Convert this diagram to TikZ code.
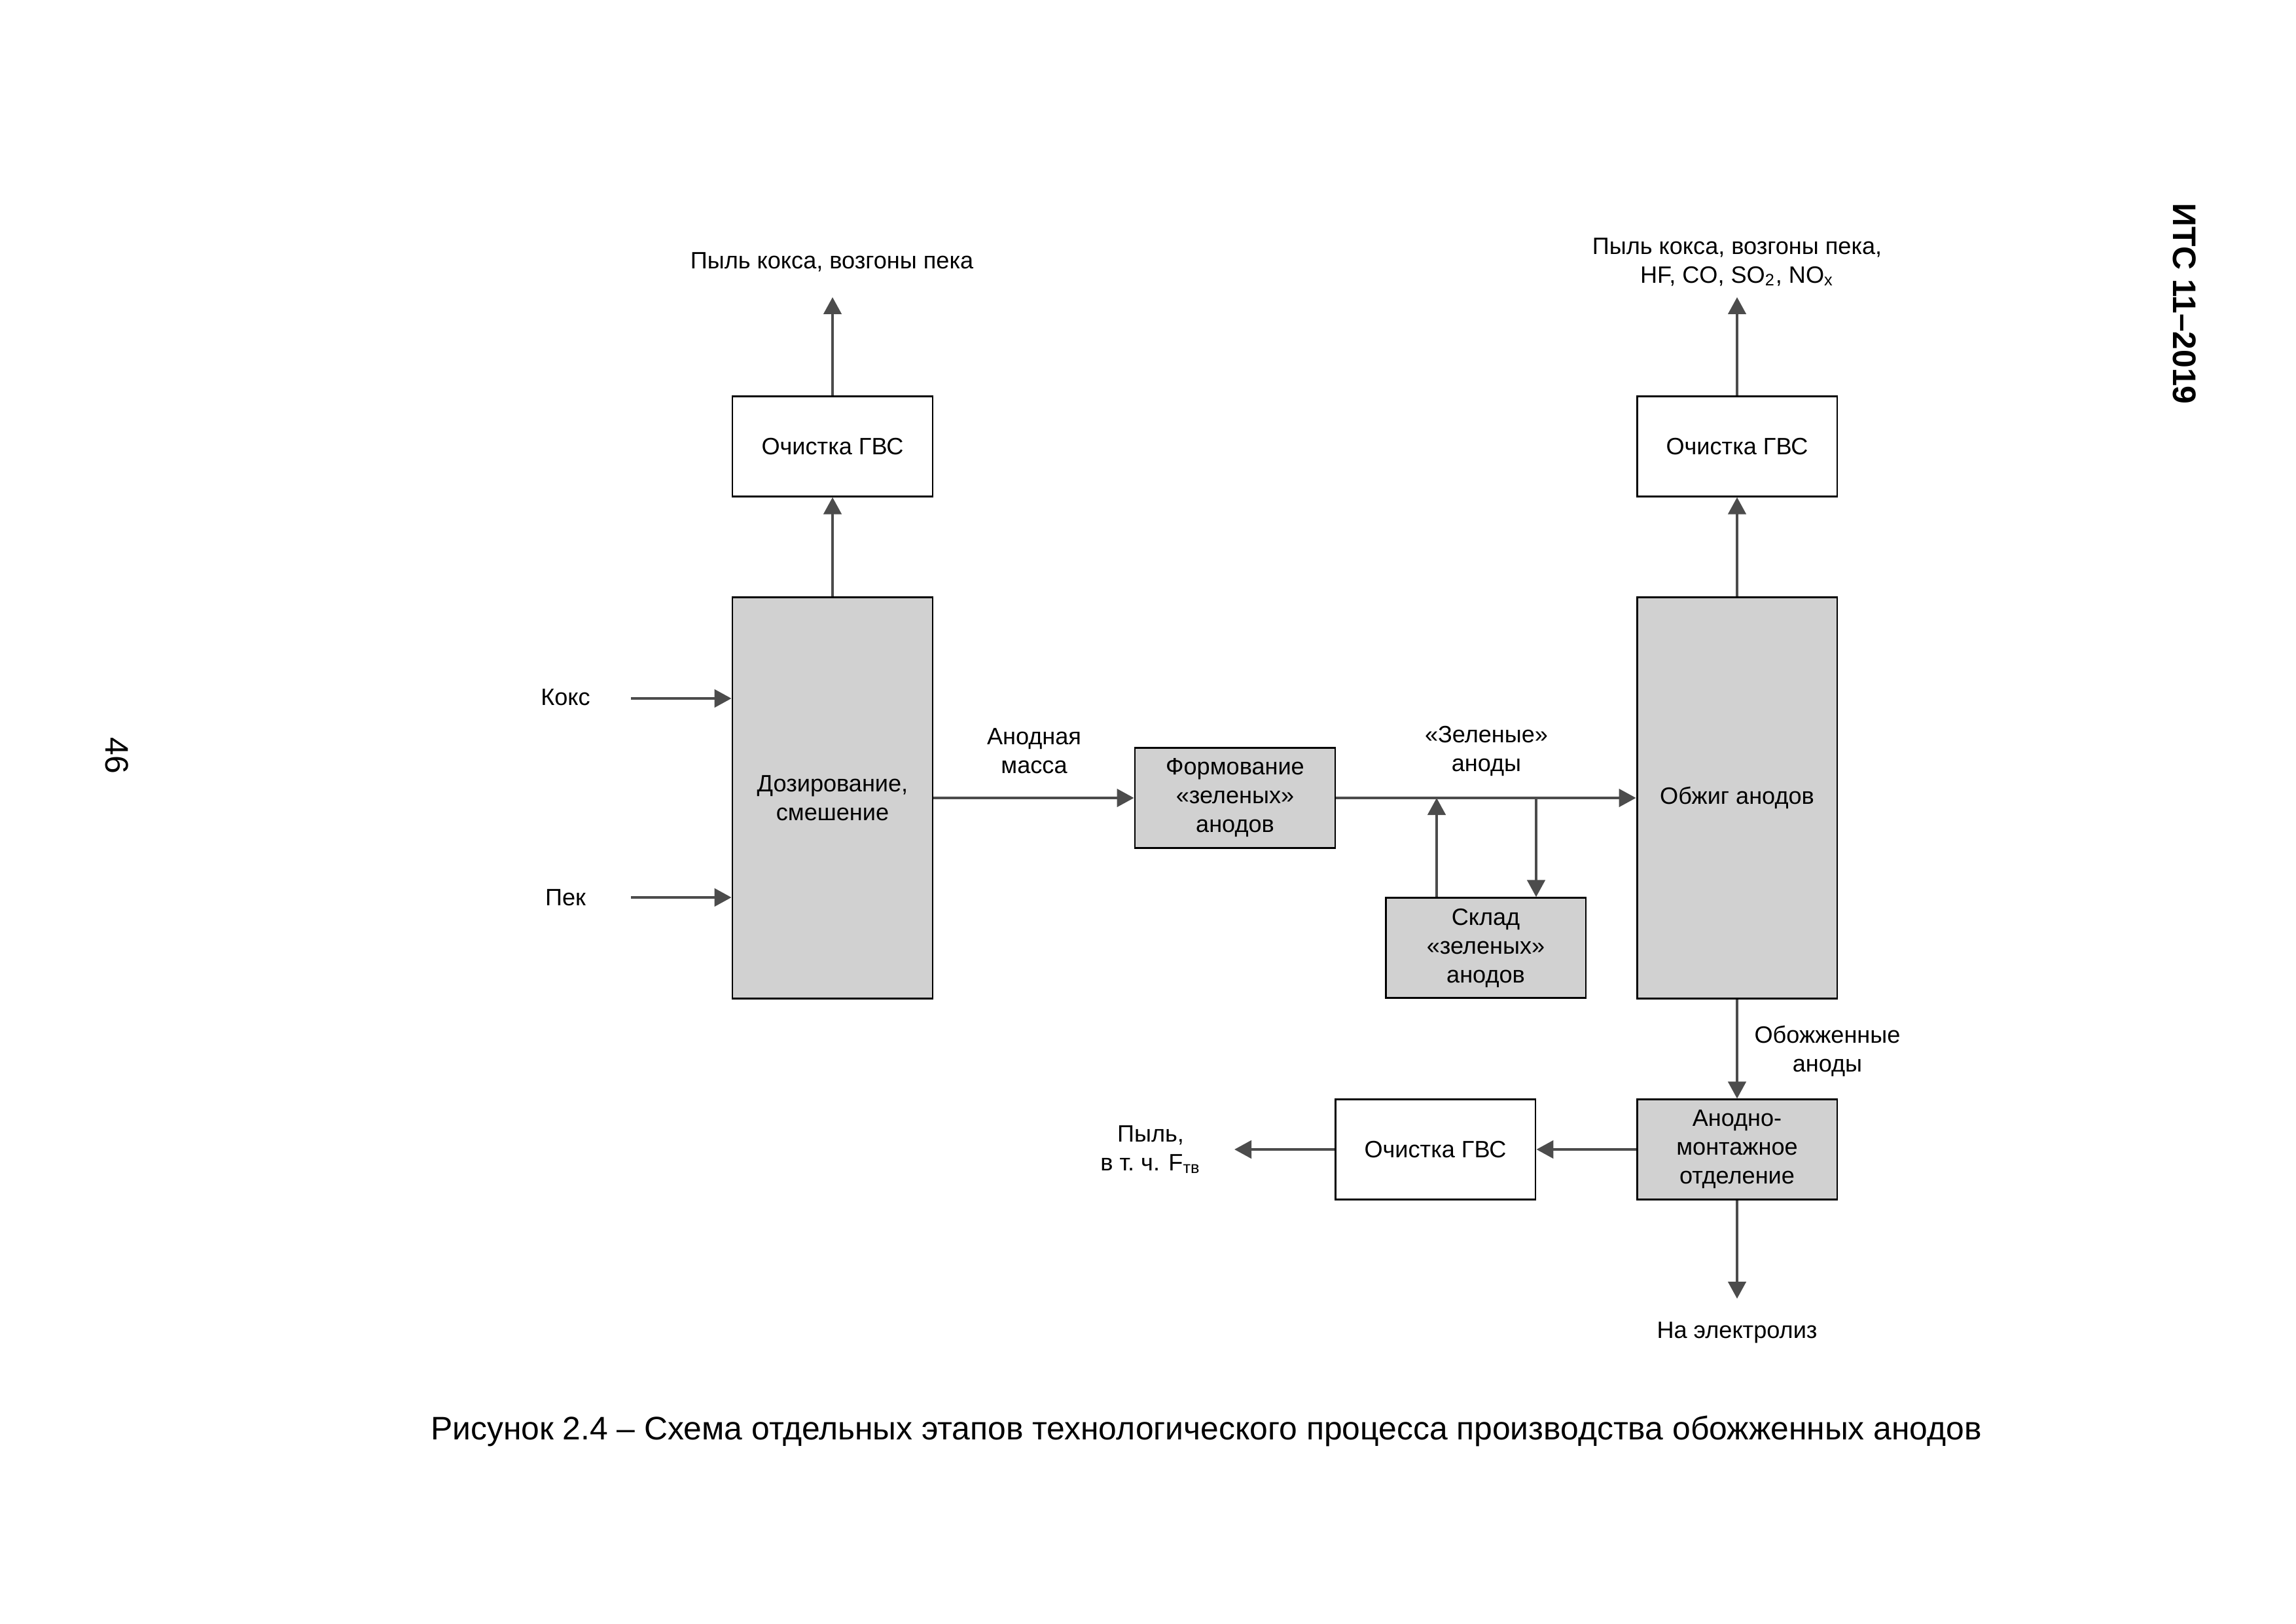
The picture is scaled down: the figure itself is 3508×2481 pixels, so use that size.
\documentclass[tikz,border=0pt]{standalone}
\usepackage{fontspec}
\setmainfont{Liberation Sans}
\usetikzlibrary{positioning, arrows.meta}
\tikzset{
  blk/.style  = {draw, line width=0.7pt, rectangle, align=center, inner sep=2pt,
                 minimum width=25.9mm, minimum height=12.9mm,
                 font=\fontsize{8.7}{10.6}\selectfont},
  hblk/.style = {blk, fill=black!18},
  tall/.style = {hblk, minimum height=51.9mm},
  ar/.style   = {-{Triangle[length=2.2mm, width=2.3mm]}, line width=1pt, black!70},
  lbl/.style  = {align=center, inner sep=1pt, font=\fontsize{8.7}{10.6}\selectfont},
}

\begin{document}
\begin{tikzpicture}[x=0.08466mm, y=-0.08466mm]
  \useasboundingbox (0,0) rectangle (3508,2481);

  % boxes
  \node[tall] (dos)  at (1272,1219) {Дозирование,\\смешение};
  \node[blk]  (och1) at (1272,682)  {Очистка ГВС};
  \node[hblk] (form) at (1887,1219) {Формование\\«зеленых»\\анодов};
  \node[hblk] (skl)  at (2270,1448) {Склад\\«зеленых»\\анодов};
  \node[tall] (obz)  at (2654,1219) {Обжиг анодов};
  \node[blk]  (och2) at (2654,682)  {Очистка ГВС};
  \node[hblk] (amo)  at (2654,1756) {Анодно-\\монтажное\\отделение};
  \node[blk]  (och3) at (2193,1756) {Очистка ГВС};

  % labels
  \node[lbl] (koks)  at (864,1065)  {Кокс};
  \node[lbl] (pek)   at (864,1371)  {Пек};
  \node[lbl] (vyb1)  at (1271,400)  {Пыль кокса, возгоны пека};
  \node[lbl] (vyb2)  at (2654,400)  {Пыль кокса, возгоны пека,\\HF, CO, SO\textsubscript{2}, NO\textsubscript{x}};
  \node[lbl] (mass)  at (1580,1147) {Анодная\\масса};
  \node[lbl] (zel)   at (2271,1147) {«Зеленые»\\аноды};
  \node[lbl] (obo)   at (2792,1606) {Обожженные\\аноды};
  \node[lbl] (pyl)   at (1758,1756) {Пыль,\\в т.~ч. F\textsubscript{тв}};
  \node[lbl] (elek)  at (2654,2036) {На электролиз};

  % free ends
  \coordinate (kin) at (964,1067);
  \coordinate (pin) at (964,1371);
  \coordinate (up1) at (1272,454);
  \coordinate (up2) at (2654,454);
  \coordinate (out3) at (1886,1756);
  \coordinate (dn)  at (2654,1984);
  \coordinate (sup) at (2195,1219);
  \coordinate (sdn) at (2347,1219);

  % connectors
  \draw[ar] (kin) -- (kin -| dos.west);
  \draw[ar] (pin) -- (pin -| dos.west);
  \draw[ar] (dos) -- (och1);
  \draw[ar] (och1) -- (up1);
  \draw[ar] (dos.east) -- (form.west);
  \draw[ar] (form.east) -- (obz.west);
  \draw[ar] (skl.north -| sup) -- (sup);
  \draw[ar] (sdn) -- (skl.north -| sdn);
  \draw[ar] (obz) -- (och2);
  \draw[ar] (och2) -- (up2);
  \draw[ar] (obz) -- (amo);
  \draw[ar] (amo) -- (och3);
  \draw[ar] (och3) -- (out3);
  \draw[ar] (amo) -- (dn);

  % page text
  \node[inner sep=0pt, font=\fontsize{12}{14}\selectfont] (cap) at (1843,2186)
    {Рисунок 2.4 – Схема отдельных этапов технологического процесса производства обожженных анодов};
  \node[rotate=-90, inner sep=0pt, font=\fontsize{12}{14}\selectfont\bfseries] (its) at (3338,464) {ИТС 11–2019};
  \node[rotate=-90, inner sep=0pt, font=\fontsize{12}{14}\selectfont] (pg) at (179,1154) {46};
\end{tikzpicture}
\end{document}
